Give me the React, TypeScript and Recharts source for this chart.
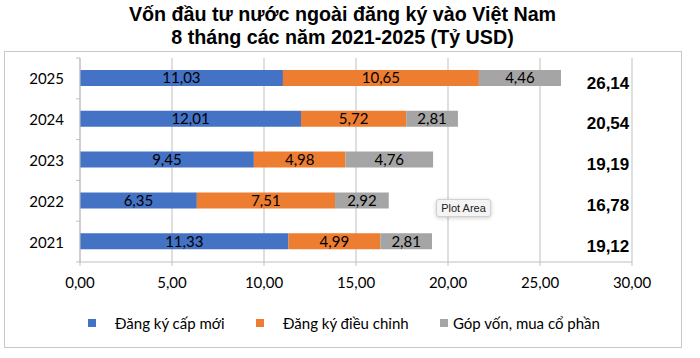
import { BarChart, Bar, XAxis, YAxis, CartesianGrid, LabelList } from "recharts";

const years = ["2025", "2024", "2023", "2022", "2021"];
const newReg = [11.03, 12.01, 9.45, 6.35, 11.33];
const adjusted = [10.65, 5.72, 4.98, 7.51, 4.99];
const shares = [4.46, 2.81, 4.76, 2.92, 2.81];
const totals = [26.14, 20.54, 19.19, 16.78, 19.12];
const xTicks = [0, 5, 10, 15, 20, 25, 30];

const seriesNames = ["Đăng ký cấp mới", "Đăng ký điều chỉnh", "Góp vốn, mua cổ phần"];
const colors = ["#4472C4", "#ED7D31", "#A5A5A5"];

const data = years.map((year, i) => ({
  year,
  newReg: newReg[i],
  adjusted: adjusted[i],
  shares: shares[i],
  total: totals[i],
}));

const fmt = (v: any) => Number(v).toFixed(2).replace(".", ",");

const BAND = 204 / years.length;
const AXIS_X = 80;

function YearTick(props: any) {
  const { y, payload, index } = props;
  return (
    <g>
      <text
        x={AXIS_X - 16}
        y={y}
        textAnchor="end"
        dominantBaseline="central"
        fontSize={15}
        fontFamily="Lato"
        fill="#000"
      >
        {payload.value}
      </text>
      <line x1={AXIS_X - 4} x2={AXIS_X} y1={y - BAND / 2} y2={y - BAND / 2} stroke="#bfbfbf" />
      {index === years.length - 1 && (
        <line x1={AXIS_X - 4} x2={AXIS_X} y1={y + BAND / 2} y2={y + BAND / 2} stroke="#bfbfbf" />
      )}
    </g>
  );
}

function TotalLabel(props: any) {
  const { x, y, width, height, index } = props;
  // pixels per unit from the gray segment, then project to the 30 mark
  const pxPerUnit = width / shares[index];
  const stackEnd = newReg[index] + adjusted[index] + shares[index];
  const x30 = x + width + (30 - stackEnd) * pxPerUnit;
  return (
    <text
      x={x30 - 24}
      y={y + height / 2 + 5}
      textAnchor="middle"
      dominantBaseline="central"
      fontSize={17}
      fontWeight="bold"
      fontFamily="Liberation Sans, Arial"
      fill="#000"
    >
      {fmt(totals[index])}
    </text>
  );
}

const legendPos = [
  { box: 88, text: 115 },
  { box: 256, text: 283 },
  { box: 440, text: 453 },
];

const labelProps = { position: "center" as const, formatter: fmt, fill: "#000", fontSize: 15, fontFamily: "Lato" };

export default function App() {
  return (
    <div
      style={{
        position: "absolute",
        left: 0,
        top: 0,
        width: 700,
        height: 358,
        background: "#fff",
        overflow: "hidden",
      }}
    >
      <div
        style={{
          position: "absolute",
          left: 0,
          top: 3,
          width: 685,
          textAlign: "center",
          fontFamily: "Liberation Sans, Arial",
          fontWeight: "bold",
          fontSize: 19.7,
          lineHeight: "23px",
          color: "#000",
        }}
      >
        Vốn đầu tư nước ngoài đăng ký vào Việt Nam
        <br />8 tháng các năm 2021-2025 (Tỷ USD)
      </div>
      <div
        style={{
          position: "absolute",
          left: 4,
          top: 51,
          width: 676,
          height: 295,
          border: "1px solid #c8c8c8",
        }}
      />
      <div style={{ position: "absolute", left: 0, top: 0 }}>
        <BarChart
          width={700}
          height={358}
          data={data}
          layout="vertical"
          margin={{ top: 58, right: 68, bottom: 66, left: 0 }}
          barSize={16}
        >
          <CartesianGrid horizontal={false} stroke="#bfbfbf" />
          <XAxis
            type="number"
            domain={[0, 30]}
            ticks={xTicks}
            tickFormatter={fmt}
            height={30}
            tickSize={4}
            tickMargin={11}
            axisLine={{ stroke: "#bfbfbf" }}
            tickLine={{ stroke: "#bfbfbf" }}
            tick={{ fill: "#000", fontSize: 15, fontFamily: "Lato" }}
            interval={0}
          />
          <YAxis
            type="category"
            dataKey="year"
            width={80}
            axisLine={{ stroke: "#bfbfbf" }}
            tickLine={false}
            tick={<YearTick />}
            interval={0}
          />
          <Bar dataKey="newReg" stackId="a" fill={colors[0]} isAnimationActive={false}>
            <LabelList dataKey="newReg" {...labelProps} />
          </Bar>
          <Bar dataKey="adjusted" stackId="a" fill={colors[1]} isAnimationActive={false}>
            <LabelList dataKey="adjusted" {...labelProps} />
          </Bar>
          <Bar dataKey="shares" stackId="a" fill={colors[2]} isAnimationActive={false}>
            <LabelList dataKey="shares" {...labelProps} />
            <LabelList dataKey="total" content={<TotalLabel />} />
          </Bar>
        </BarChart>
      </div>
      {seriesNames.map((name, i) => (
        <div key={name}>
          <div
            style={{
              position: "absolute",
              left: legendPos[i].box,
              top: 319,
              width: 8,
              height: 8,
              background: colors[i],
            }}
          />
          <div
            style={{
              position: "absolute",
              left: legendPos[i].text,
              top: 313,
              lineHeight: "20px",
              fontSize: 15,
              fontFamily: "Lato",
              color: "#000",
              whiteSpace: "nowrap",
            }}
          >
            {name}
          </div>
        </div>
      ))}
      <div
        style={{
          position: "absolute",
          left: 436,
          top: 199,
          width: 53,
          height: 16,
          border: "1px solid #d0d0d0",
          borderRadius: 3,
          background: "#f4f4f4",
          boxShadow: "0 1px 4px rgba(0,0,0,0.2)",
          fontSize: 11,
          fontFamily: "Liberation Sans, Arial",
          lineHeight: "16px",
          textAlign: "center",
          color: "#222",
        }}
      >
        Plot Area
      </div>
    </div>
  );
}
